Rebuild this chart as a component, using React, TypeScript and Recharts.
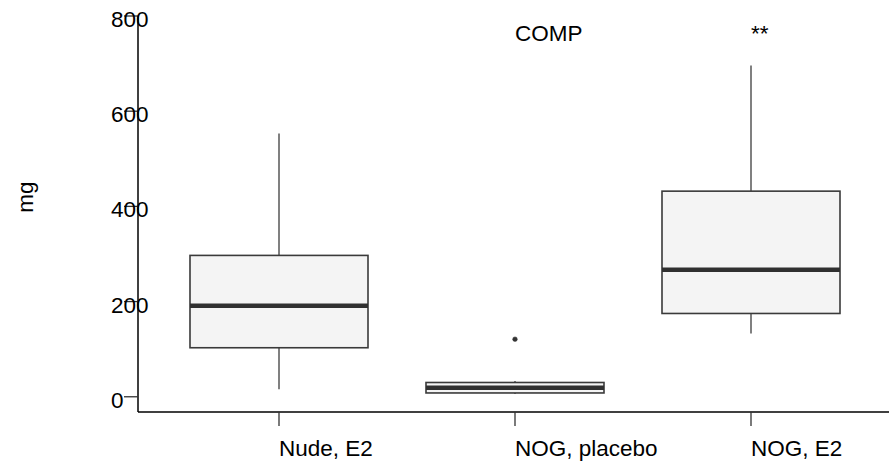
import { ComposedChart, Bar, Line, XAxis, YAxis, LabelList } from 'recharts'

const categories = ['Nude, E2', 'NOG, placebo', 'NOG, E2']
const mins = [16, 6, 133]
const q1s = [103, 8, 175]
const medians = [191, 19, 267]
const q3s = [297, 30, 432]
const maxs = [553, 33, 696]
const outliers = [null, 121, null]
const notes = ['', 'COMP', '**']
const yTicks = [0, 200, 400, 600, 800]

const data = categories.map((name, i) => ({
  name,
  min: mins[i],
  q1: q1s[i],
  median: medians[i],
  q3: q3s[i],
  max: maxs[i],
  outlier: outliers[i],
  note: notes[i],
}))

const FONT = '"Liberation Sans", Arial, sans-serif'
const FS = 22.5

const BoxShape = (props: any) => {
  const { x, y, width, height, payload } = props
  const top = Math.min(y, y + height)
  const bottom = Math.max(y, y + height)
  const k = (bottom - top) / (payload.max - payload.min)
  const py = (v: number) => bottom - (v - payload.min) * k
  const cx = x + width / 2
  return (
    <g>
      <line x1={cx} x2={cx} y1={py(payload.max)} y2={py(payload.q3)} stroke="#3c3c3c" strokeWidth={1.3} />
      <line x1={cx} x2={cx} y1={py(payload.q1)} y2={py(payload.min)} stroke="#3c3c3c" strokeWidth={1.3} />
      <rect x={x} y={py(payload.q3)} width={width} height={py(payload.q1) - py(payload.q3)} fill="#f4f4f4" stroke="#3a3a3a" strokeWidth={1.6} />
      <line x1={x} x2={x + width} y1={py(payload.median)} y2={py(payload.median)} stroke="#303030" strokeWidth={4.5} />
    </g>
  )
}

const YTick = (props: any) => {
  const { y, payload } = props
  return (
    <text x={111} y={y + 11} textAnchor="start" fontSize={FS} fontFamily={FONT} fill="#000">
      {payload.value}
    </text>
  )
}

const XTick = (props: any) => {
  const { x, y, payload } = props
  return (
    <text x={x} y={y + 30} textAnchor="start" fontSize={FS} fontFamily={FONT} fill="#000">
      {payload.value}
    </text>
  )
}

const Note = (props: any) => {
  const { x, width, value } = props
  if (!value) return null
  return (
    <text x={x + width / 2} y={41} textAnchor="start" fontSize={FS} fontFamily={FONT} fill="#000">
      {value}
    </text>
  )
}

export default function App() {
  return (
    <div style={{ position: 'absolute', left: 0, top: 0, background: '#fff' }}>
      <ComposedChart width={889} height={462} data={data} margin={{ top: 16, right: 0, bottom: 0, left: 0 }}>
        <XAxis
          dataKey="name"
          height={50}
          padding={{ left: 23, right: 20 }}
          axisLine={{ stroke: '#000', strokeWidth: 1.5 }}
          tickLine={{ stroke: '#333', strokeWidth: 1.3 }}
          tickSize={14}
          tickMargin={0}
          tick={<XTick />}
          interval={0}
        />
        <YAxis
          type="number"
          domain={[-32, 800]}
          ticks={yTicks}
          width={138}
          axisLine={{ stroke: '#000', strokeWidth: 1.5 }}
          tickLine={{ stroke: '#333', strokeWidth: 1.3 }}
          tickSize={14}
          tickMargin={0}
          tick={<YTick />}
          allowDataOverflow
          label={{
            content: () => (
              <text x={32.5} y={197} textAnchor="middle" fontSize={FS} fontFamily={FONT} fill="#000" transform="rotate(-90, 32.5, 197)">
                mg
              </text>
            ),
          }}
        />
        <Bar dataKey={(d: any) => [d.min, d.max]} barSize={178} shape={<BoxShape />} isAnimationActive={false}>
          <LabelList dataKey="note" content={<Note />} />
        </Bar>
        <Line
          dataKey="outlier"
          stroke="none"
          dot={{ r: 2.3, fill: '#333', stroke: '#333', strokeWidth: 0.5 }}
          activeDot={false}
          isAnimationActive={false}
        />
      </ComposedChart>
    </div>
  )
}
